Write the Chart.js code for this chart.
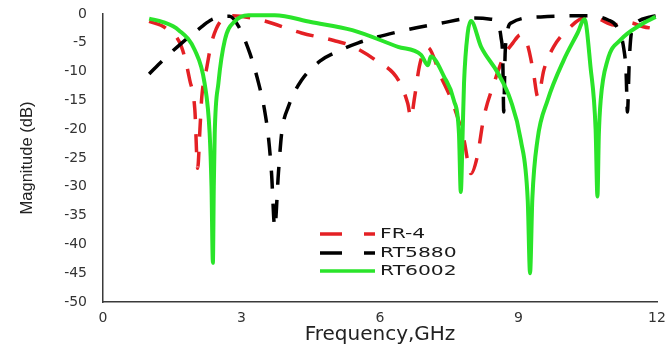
<!DOCTYPE html>
<html><head><meta charset="utf-8">
<script src="https://cdn.jsdelivr.net/npm/chart.js@4.4.1/dist/chart.umd.min.js"></script>
<style>html,body{margin:0;padding:0;background:#fff;overflow:hidden}#wrap{width:665px;height:350px}</style>
</head><body><div id="wrap"><canvas id="c" width="665" height="350"></canvas></div>
<script>
// ---- data ----
const seriesNames = ['FR-4', 'RT5880', 'RT6002'];
const xTicks = [0, 3, 6, 9, 12];
const yTicks = [0, -5, -10, -15, -20, -25, -30, -35, -40, -45, -50];

const fr4Freq = [1.0, 1.35, 1.7, 1.88, 1.99, 2.05, 2.1, 2.14, 2.25, 2.35, 2.57, 2.79, 3.4, 4.3, 5.0, 5.4, 5.9, 6.4, 6.6, 6.67, 6.75, 6.85, 6.96, 7.03, 7.32, 7.6, 7.82, 7.97, 8.1, 8.25, 8.47, 8.68, 8.88, 9.05, 9.2, 9.32, 9.42, 9.55, 9.76, 10.13, 10.41, 10.7, 11.06, 11.4, 11.7, 12.0];
const fr4Mag  = [-1.3, -2.4, -5.7, -11.5, -16.7, -26.8, -20, -14.4, -9.2, -5, -1, -0.3, -1, -3.3, -4.6, -5.6, -8, -11.5, -15.5, -18, -14.4, -9.2, -6.3, -5.8, -10.9, -16, -21.9, -27.7, -25, -17.9, -12, -7.4, -5, -3.6, -5.5, -10, -14.4, -9.7, -5.7, -2.2, -0.7, -0.8, -1.9, -1.5, -2.2, -2.6];

const rt5880Freq = [1.0, 1.3, 1.71, 2.14, 2.35, 2.74, 2.94, 3.18, 3.37, 3.5, 3.59, 3.65, 3.72, 3.8, 3.87, 4.02, 4.3, 4.73, 5.0, 5.53, 6.39, 7.32, 8.03, 8.4, 8.55, 8.62, 8.66, 8.68, 8.71, 8.76, 8.85, 9.48, 10.5, 10.93, 11.15, 11.28, 11.33, 11.36, 11.4, 11.45, 11.55, 11.86, 12.0];
const rt5880Mag  = [-10.4, -8, -5, -2.2, -1, -0.4, -2.2, -6.8, -12, -16.7, -21.9, -27.6, -37, -27.6, -20.7, -16, -11.5, -8, -6.8, -5, -3.1, -1.6, -0.7, -0.9, -1.6, -4, -8, -17, -7, -3, -1.5, -0.5, -0.3, -1, -2.5, -6, -10, -17, -8, -3, -1.5, -0.5, -0.3];

const rt6002Freq = [1.0, 1.3, 1.64, 1.99, 2.2, 2.31, 2.35, 2.38, 2.4, 2.42, 2.5, 2.64, 2.85, 3.15, 3.72, 4.5, 5.4, 6.39, 6.89, 7.04, 7.1, 7.39, 7.6, 7.71, 7.75, 7.79, 7.82, 7.9, 7.97, 8.19, 8.55, 8.83, 9.05, 9.2, 9.25, 9.3, 9.41, 9.63, 9.98, 10.28, 10.43, 10.56, 10.67, 10.71, 10.74, 10.78, 10.93, 11.21, 11.64, 11.97];
const rt6002Mag  = [-0.8, -1.4, -2.8, -6.3, -12, -20.7, -30, -43.2, -30, -20.7, -12, -4.5, -1.3, -0.2, -0.2, -1.4, -2.8, -5.7, -7.1, -8.9, -7.4, -10.9, -15, -20.7, -30.9, -20.7, -12, -3.3, -1.2, -5.7, -10.2, -15, -21.9, -32.3, -45, -32, -21.9, -15, -8, -3.3, -0.9, -9.2, -20, -31.7, -21, -15, -8, -4.5, -1.9, -0.5];

// ---- build ----
const toPts = (xs, ys) => xs.map((x, i) => ({x: x, y: ys[i]}));
const RED = 'rgb(228,32,36)', BLACK = '#000000', GREEN = 'rgb(42,228,42)';

const inlineLegend = {
  id: 'inlineLegend',
  afterDraw(chart) {
    const ctx = chart.ctx;
    const rows = [234, 253, 271];
    chart.data.datasets.forEach((ds, i) => {
      const y = rows[i];
      ctx.save();
      ctx.strokeStyle = ds.borderColor;
      ctx.lineWidth = 3.5;
      ctx.setLineDash(ds.borderDash && ds.borderDash.length ? [22, 22] : []);
      ctx.beginPath();
      ctx.moveTo(320, y);
      ctx.lineTo(375, y);
      ctx.stroke();
      ctx.restore();
      ctx.save();
      ctx.translate(380, y);
      ctx.scale(1.45, 1);
      ctx.fillStyle = '#1a1a1a';
      ctx.font = '14px "DejaVu Sans"';
      ctx.textBaseline = 'middle';
      ctx.textAlign = 'left';
      ctx.fillText(ds.label, 0, 0);
      ctx.restore();
    });
  }
};

new Chart(document.getElementById('c'), {
  type: 'line',
  data: {
    datasets: [
      {label: seriesNames[0], data: toPts(fr4Freq, fr4Mag), borderColor: RED, borderWidth: 3.5, borderDash: [18, 15], order: 2},
      {label: seriesNames[1], data: toPts(rt5880Freq, rt5880Mag), borderColor: BLACK, borderWidth: 3.5, borderDash: [18, 15], order: 1},
      {label: seriesNames[2], data: toPts(rt6002Freq, rt6002Mag), borderColor: GREEN, borderWidth: 4, order: 0}
    ]
  },
  options: {
    responsive: false,
    animation: false,
    devicePixelRatio: 1,
    layout: {padding: {top: 14, right: 8, bottom: 0, left: 0}},
    elements: {
      point: {radius: 0},
      line: {cubicInterpolationMode: 'monotone', fill: false, borderCapStyle: 'butt'}
    },
    datasets: {line: {clip: false}},
    plugins: {legend: {display: false}, tooltip: {enabled: false}},
    scales: {
      x: {
        type: 'linear', min: 0, max: 12,
        afterBuildTicks: s => { s.ticks = xTicks.map(v => ({value: v})); },
        afterFit: s => { s.height = 48; s.paddingLeft = 0; s.paddingRight = 0; },
        grid: {display: true, drawOnChartArea: false, drawTicks: false, color: 'rgba(0,0,0,0)'},
        border: {display: true, color: '#3a3a3a', width: 1.5},
        ticks: {padding: 8, color: '#333', font: {family: '"DejaVu Sans"', size: 14}, maxRotation: 0},
        title: {display: true, text: 'Frequency,GHz', color: '#222', font: {family: '"DejaVu Sans"', size: 20}, padding: {top: 0, bottom: 3}}
      },
      y: {
        type: 'linear', min: -50, max: 0,
        afterBuildTicks: s => { s.ticks = yTicks.map(v => ({value: v})); },
        afterFit: s => { s.width = 103; s.paddingTop = 0; s.paddingBottom = 0; },
        grid: {display: true, drawOnChartArea: false, drawTicks: false, color: 'rgba(0,0,0,0)'},
        border: {display: true, color: '#3a3a3a', width: 1.5},
        ticks: {padding: 16, color: '#333', font: {family: '"DejaVu Sans"', size: 14}},
        title: {display: true, text: 'Magnitude (dB)', color: '#222', font: {family: '"Liberation Sans"', size: 16.5}, padding: {top: 18, bottom: 0}}
      }
    }
  },
  plugins: [inlineLegend]
});
</script>
</body></html>
